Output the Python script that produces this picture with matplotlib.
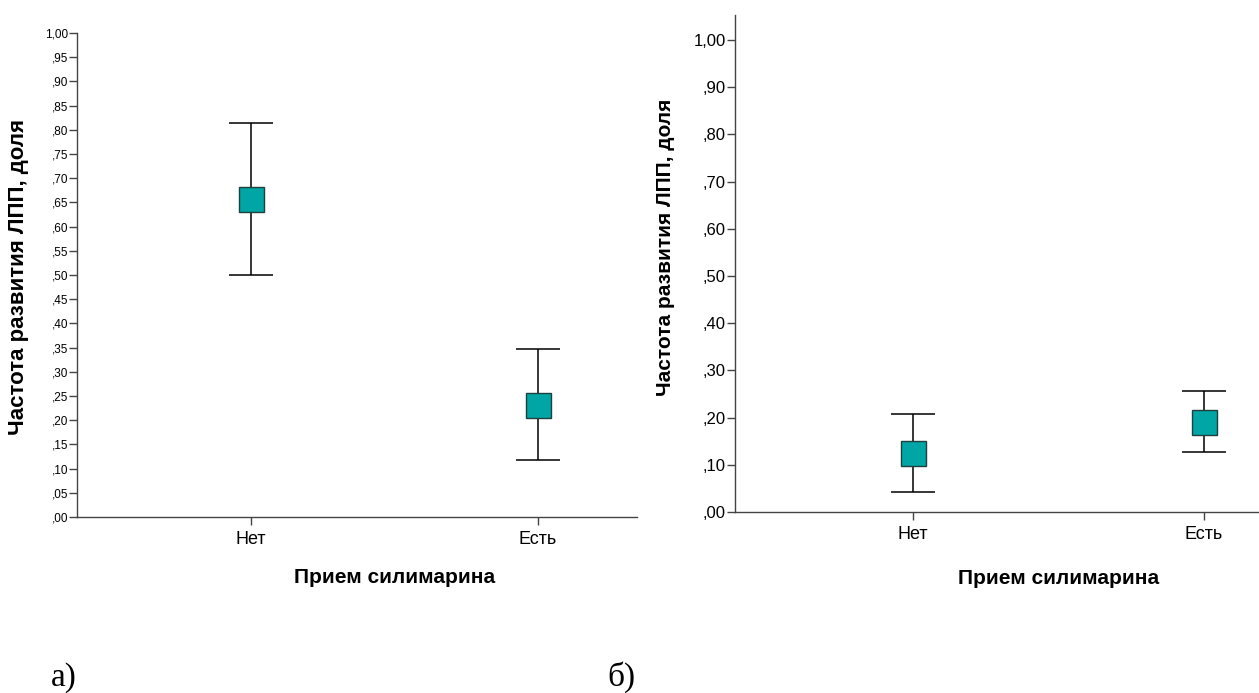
import matplotlib.pyplot as plt
from matplotlib.transforms import blended_transform_factory
from matplotlib.ticker import FuncFormatter, MultipleLocator

# data
groups = ['Нет', 'Есть']

means_a = [0.657, 0.231]
lower_a = [0.500, 0.118]
upper_a = [0.815, 0.347]

means_b = [0.124, 0.190]
lower_b = [0.042, 0.127]
upper_b = [0.208, 0.256]

y_label = 'Частота развития ЛПП, доля'
x_label = 'Прием силимарина'

teal = '#00A6A6'
spine_col = '#444444'


def fmt(v, pos):
    s = f'{v:.2f}'.replace('.', ',')
    if s.startswith('0'):
        s = s[1:]
    return s


def draw(ax, means, lower, upper, tick_fs, step, ylim, xlim,
         ylab_fs, ylab_x, ylab_y, xlab_y):
    x = [1, 2]
    err = [[m - l for m, l in zip(means, lower)], [u - m for m, u in zip(means, upper)]]
    ax.errorbar(x, means, yerr=err, fmt='none', ecolor='black', elinewidth=1.1,
                capsize=16, capthick=1.1, zorder=2)
    ax.plot(x, means, 's', markersize=18, markerfacecolor=teal,
            markeredgecolor='#1f3f3f', markeredgewidth=1.0, linestyle='none', zorder=3)
    ax.set_xlim(*xlim)
    ax.set_ylim(*ylim)
    ax.yaxis.set_major_locator(MultipleLocator(step))
    ax.yaxis.set_major_formatter(FuncFormatter(fmt))
    ax.set_xticks(x)
    ax.set_xticklabels(groups, fontsize=13)
    ax.tick_params(axis='y', labelsize=tick_fs, length=6, width=1, color=spine_col, pad=0.5)
    ax.tick_params(axis='x', length=6, width=1, color=spine_col, pad=4)
    for s in ['top', 'right']:
        ax.spines[s].set_visible(False)
    for s in ['left', 'bottom']:
        ax.spines[s].set_color(spine_col)
        ax.spines[s].set_linewidth(1.0)
    ax.set_ylabel(y_label, fontsize=ylab_fs, fontweight='bold')
    ax.yaxis.set_label_coords(ylab_x, ylab_y)
    tr = blended_transform_factory(ax.transData, ax.transAxes)
    ax.text(1.5, xlab_y, x_label, transform=tr, ha='center', va='center',
            fontsize=15, fontweight='bold')


plt.rcParams['font.family'] = ['Liberation Sans', 'DejaVu Sans']

fig = plt.figure(figsize=(12.59, 6.93), dpi=100)

ax1 = fig.add_axes([77 / 1259, 176 / 693, 560 / 1259, 484 / 693])
draw(ax1, means_a, lower_a, upper_a, 8.5, 0.05, (0, 1.0), (0.394, 2.345),
     16, -0.086, 0.496, -0.126)

ax2 = fig.add_axes([735 / 1259, 181 / 693, 540 / 1259, 497 / 693])
draw(ax2, means_b, lower_b, upper_b, 12, 0.10, (0, 1.053), (0.388, 2.244),
     15, -0.111, 0.533, -0.133)

# panel letters
fig.text(51 / 1259, 1 - 686 / 693, 'а)', family='Liberation Serif', fontsize=24, va='baseline')
fig.text(607 / 1259, 1 - 686 / 693, 'б)', family='Liberation Serif', fontsize=24, va='baseline')

fig.savefig('out.png', dpi=100)
